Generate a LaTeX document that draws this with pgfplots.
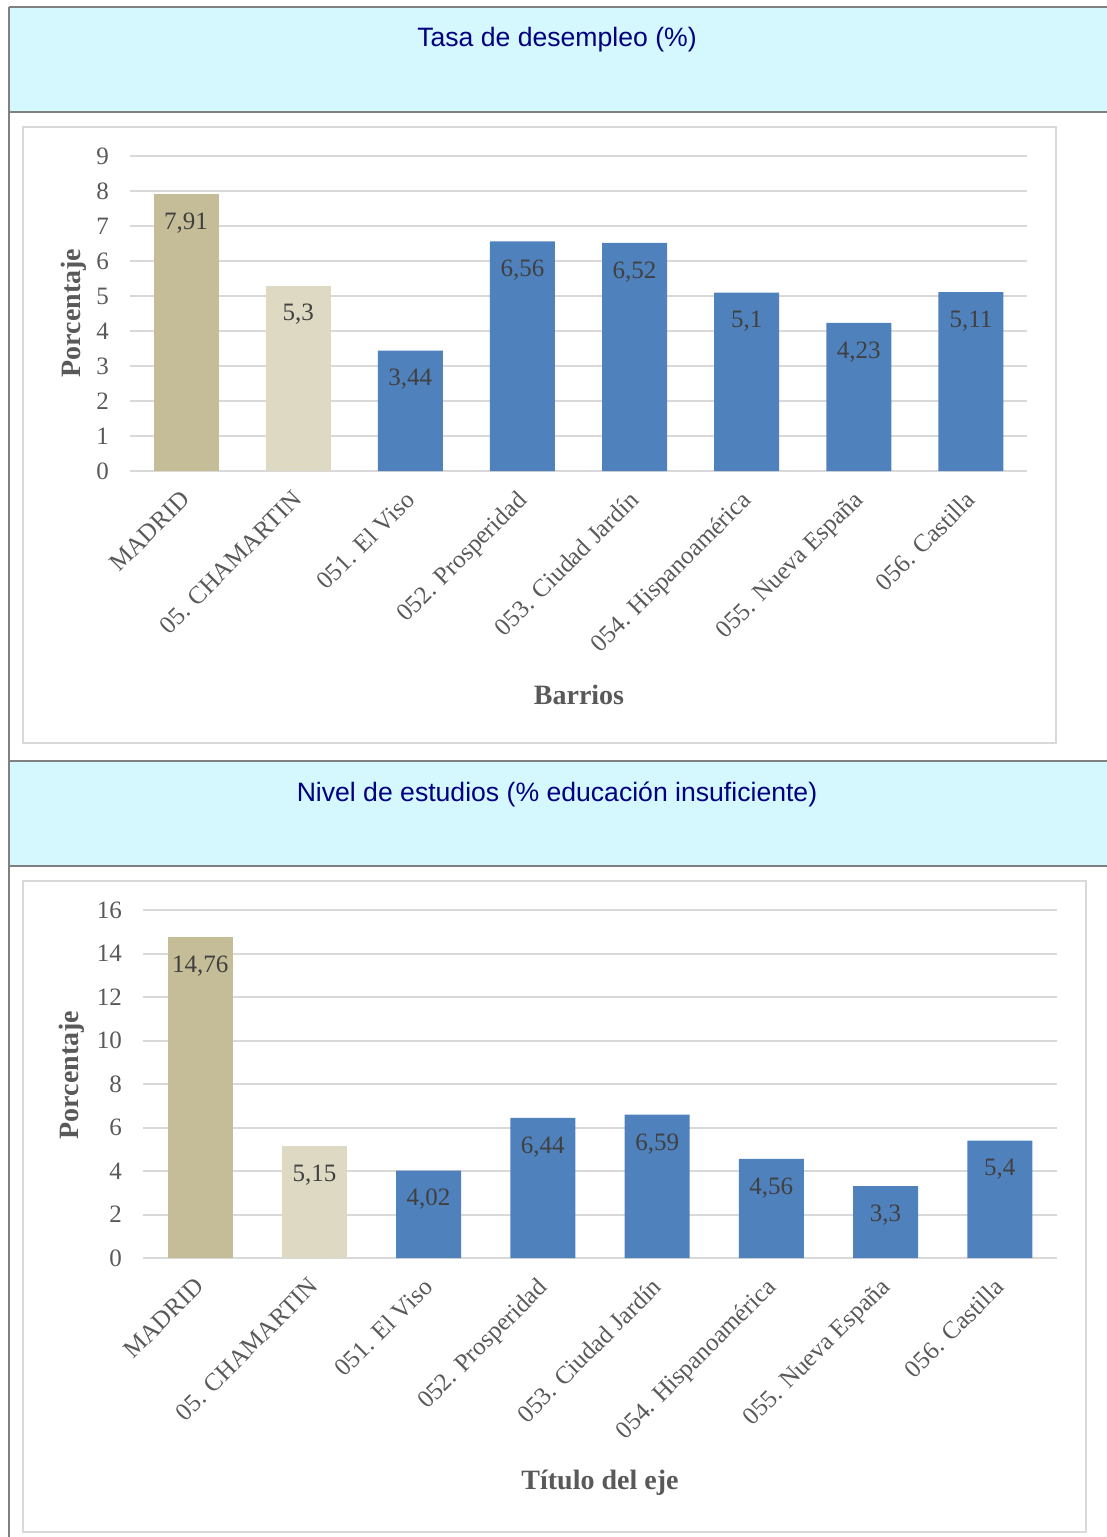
\documentclass[border=0pt]{standalone}
\usepackage{fontspec}
\setmainfont{Liberation Serif}
\newfontfamily\titlefont{Liberation Sans}
\usepackage{pgfplots}
\pgfplotsset{compat=1.18}
\definecolor{hdr}{RGB}{213,248,255}
\definecolor{navy}{RGB}{0,0,128}
\definecolor{framec}{RGB}{128,128,128}
\definecolor{boxc}{RGB}{217,217,217}
\definecolor{gridc}{RGB}{217,217,217}
\definecolor{madrid}{RGB}{196,189,151}
\definecolor{chamartin}{RGB}{221,217,195}
\definecolor{barblue}{RGB}{79,129,189}
\definecolor{ticktext}{RGB}{89,89,89}
\definecolor{valtext}{RGB}{64,64,64}
\newcommand{\tickfont}{\fontsize{12.5}{14}\selectfont}
\newcommand{\labfont}{\fontsize{14}{16}\selectfont\bfseries}
\pgfplotsset{
 mybars/.style={
  scale only axis,
  xmin=-0.5, xmax=7.5, ymin=0,
  axis line style={draw=none},
  major tick length=0pt,
  ymajorgrids, grid style={gridc, line width=1pt},
  xtick={0,...,7},
  xticklabels={MADRID, 05. CHAMARTIN, 051. El Viso, 052. Prosperidad, 053. Ciudad Jardín, 054. Hispanoamérica, 055. Nueva España, 056. Castilla},
  xticklabel style={xshift=-3.3pt, yshift=-4.2pt, rotate=45, anchor=north east, font=\tickfont, text=ticktext},
  yticklabel style={font=\tickfont, text=ticktext, xshift=-7pt},
  /pgf/number format/assume math mode=true,
  /pgf/number format/use comma,
  clip=false,
 },
 barsty/.style={ybar, bar width=32.5pt, bar shift=0pt, draw=none, fill=#1,
  nodes near coords,
  nodes near coords style={font=\tickfont, text=valtext, anchor=center, yshift=-14.5pt}},
}
\begin{document}
\begin{tikzpicture}
\useasboundingbox (0,0) rectangle (553.5pt,-768.5pt);
\begin{scope}
\clip (0,0) rectangle (553.5pt,-768.5pt);
% headers
\fill[hdr] (4.25pt,-3.25pt) rectangle (560pt,-55.75pt);
\fill[hdr] (4.25pt,-380.5pt) rectangle (560pt,-432.75pt);
\draw[framec, line width=1pt] (4.25pt,-3.25pt) -- (560pt,-3.25pt);
\draw[framec, line width=1pt] (4.25pt,-55.75pt) -- (560pt,-55.75pt);
\draw[framec, line width=1pt] (4.25pt,-380.5pt) -- (560pt,-380.5pt);
\draw[framec, line width=1pt] (4.25pt,-432.75pt) -- (560pt,-432.75pt);
\draw[framec, line width=1pt] (4.25pt,-3.25pt) -- (4.25pt,-770pt);
\node[text=navy, font=\titlefont\fontsize{13.3}{16}\selectfont] at (278.5pt,-20pt) {Tasa de desempleo (\%)};
\node[text=navy, font=\titlefont\fontsize{13.3}{16}\selectfont] at (278.5pt,-397pt) {Nivel de estudios (\% educación insuficiente)};
% chart boxes
\draw[boxc, line width=1pt] (11.5pt,-63.5pt) rectangle (528pt,-371.5pt);
\draw[boxc, line width=1pt] (11.5pt,-440.5pt) rectangle (543pt,-766pt);
\end{scope}
% chart 1
\begin{axis}[mybars, at={(65pt,-235.5pt)}, anchor=south west,
  width=448.5pt, height=157.5pt, ymax=9, ytick={0,...,9}]
\addplot[barsty=madrid] coordinates {(0,7.91)};
\addplot[barsty=chamartin] coordinates {(1,5.3)};
\addplot[barsty=barblue] coordinates {(2,3.44) (3,6.56) (4,6.52) (5,5.1) (6,4.23) (7,5.11)};
\end{axis}
\node[rotate=90, text=ticktext, font=\labfont] at (37pt,-156.5pt) {Porcentaje};
\node[text=ticktext, font=\labfont] at (289.5pt,-347.5pt) {Barrios};
% chart 2
\begin{axis}[mybars, at={(71.5pt,-629pt)}, anchor=south west,
  width=457pt, height=174pt, ymax=16, ytick={0,2,...,16}]
\addplot[barsty=madrid] coordinates {(0,14.76)};
\addplot[barsty=chamartin] coordinates {(1,5.15)};
\addplot[barsty=barblue] coordinates {(2,4.02) (3,6.44) (4,6.59) (5,4.56) (6,3.3) (7,5.4)};
\end{axis}
\node[rotate=90, text=ticktext, font=\labfont] at (36pt,-537.5pt) {Porcentaje};
\node[text=ticktext, font=\labfont] at (300pt,-741.5pt) {Título del eje};
\end{tikzpicture}
\end{document}
